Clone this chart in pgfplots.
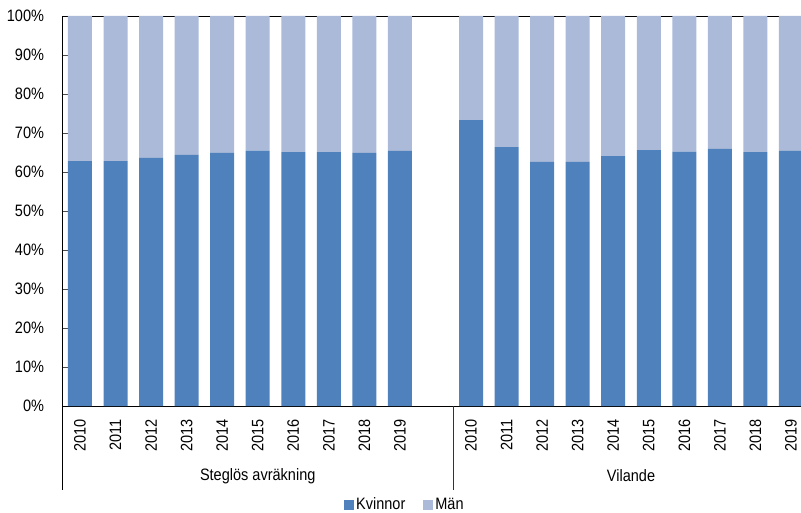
\documentclass[border=0pt]{standalone}
\usepackage{fontspec}
\setmainfont{Liberation Sans}[FakeStretch=0.88]
\usepackage{pgfplots}
\pgfplotsset{compat=1.18}

\definecolor{kvinnor}{RGB}{79,129,189}
\definecolor{man}{RGB}{170,186,216}

\begin{document}
\fontsize{16.5bp}{19bp}\selectfont
\begin{tikzpicture}
\begin{axis}[
  x=35.55bp, y=3.9bp,
  xmin=-0.5, xmax=20.33,
  ymin=0, ymax=100,
  ybar stacked,
  bar width=24bp,
  clip mode=individual,
  axis line style={black, line width=0.8bp},
  xtick pos=bottom, ytick pos=left,
  xtick={0,1,2,3,4,5,6,7,8,9,11,12,13,14,15,16,17,18,19,20},
  xticklabels={2010,2011,2012,2013,2014,2015,2016,2017,2018,2019,
               2010,2011,2012,2013,2014,2015,2016,2017,2018,2019},
  x tick style={draw=none},
  xticklabel style={rotate=90, anchor=east, inner sep=0pt},
  xticklabel shift=13bp,
  ytick={0,10,...,100},
  yticklabels={0\%,10\%,20\%,30\%,40\%,50\%,60\%,70\%,80\%,90\%,100\%},
  yticklabel style={inner sep=0pt},
  yticklabel shift=18bp,
  y tick style={black!70, line width=0.8bp},
  major tick length=6bp,
  tick align=inside,
  legend style={at={(axis cs:9.14,-25.4)}, anchor=center, draw=none,
    legend columns=-1, inner sep=0pt,
    /tikz/every even column/.append style={column sep=16bp}},
  legend image code/.code={\fill[#1] (0bp,-5bp) rectangle (10bp,5bp);},
]
\addplot[fill=kvinnor, draw=none] coordinates {
  (0,62.8) (1,62.8) (2,63.6) (3,64.4) (4,64.9) (5,65.5) (6,65.1) (7,65.1) (8,64.9) (9,65.4)
  (11,73.3) (12,66.4) (13,62.6) (14,62.6) (15,64.1) (16,65.6) (17,65.2) (18,65.9) (19,65.1) (20,65.4)
};
\addlegendentry{Kvinnor}
\addplot[fill=man, draw=none] coordinates {
  (0,37.2) (1,37.2) (2,36.4) (3,35.6) (4,35.1) (5,34.5) (6,34.9) (7,34.9) (8,35.1) (9,34.6)
  (11,26.7) (12,33.6) (13,37.4) (14,37.4) (15,35.9) (16,34.4) (17,34.8) (18,34.1) (19,34.9) (20,34.6)
};
\addlegendentry{Män}
\coordinate (o) at (axis cs:-0.5,0);
\draw[black, line width=0.8bp] (axis cs:-0.5,0) -- (axis cs:-0.5,-21.5);
\draw[black!80, line width=0.8bp] (axis cs:10.5,0) -- (axis cs:10.5,-21.5);
\node at (axis cs:5,-17.9) {Steglös avräkning};
\node at (axis cs:15.5,-17.9) {Vilande};
\end{axis}
\pgfresetboundingbox
\path[use as bounding box] (o) ++(-62.2bp,-107bp) rectangle ++(801bp,513bp);
\end{tikzpicture}
\end{document}
